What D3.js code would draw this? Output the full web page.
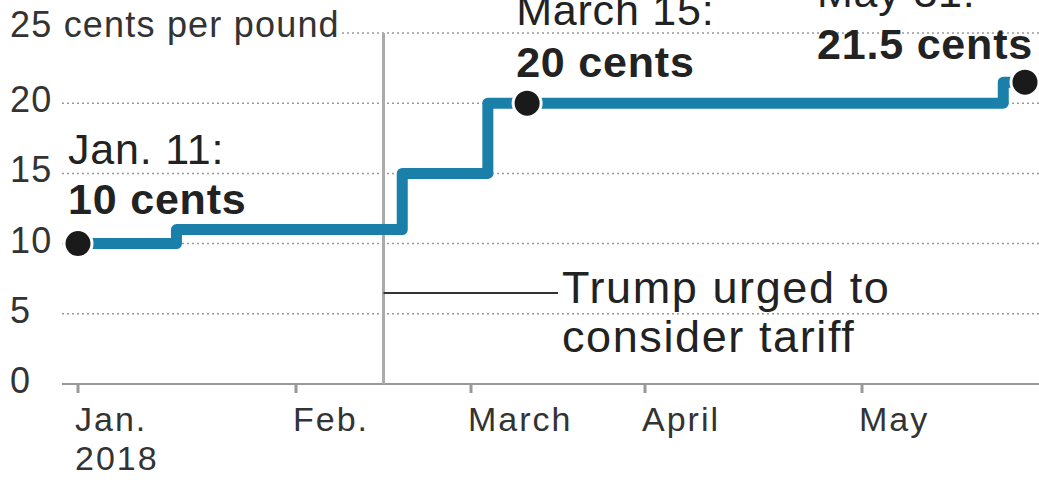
<!DOCTYPE html>
<html>

<head>
  <meta charset="utf-8">
  <script src="https://d3js.org/d3.v7.min.js"></script>
  <style>
    body {
      margin: 0;
      background: #fff;
    }

    svg {
      display: block;
      font-family: "Liberation Sans", Arial, sans-serif;
    }
  </style>
</head>

<body>
  <svg width="1039" height="480"></svg>
  <script>
    const svg = d3.select("svg");
    const parse = d3.timeParse("%Y-%m-%d");

    // 月份刻度
    const monthLabels = ["Jan.", "Feb.", "March", "April", "May"];
    const monthStarts = ["2018-01-01", "2018-02-01", "2018-03-01", "2018-04-01", "2018-05-01"];
    const yTicks = [0, 5, 10, 15, 20, 25];

    // 阶梯线数据（从图上读出的日期）
    const stepDates = ["2018-01-01", "2018-01-15", "2018-02-18", "2018-03-04", "2018-05-27", "2018-05-31"];
    const stepValues = [10, 11, 15, 20, 21.5, 21.5];

    // 标注点
    const markerDates = ["2018-01-01", "2018-03-11", "2018-05-31"];
    const markerValues = [10, 20, 21.5];
    const markerTitles = ["Jan. 11:", "March 15:", "May 31:"];
    const markerAmounts = ["10 cents", "20 cents", "21.5 cents"];

    // 事件注释
    const eventDate = "2018-02-15";
    const eventText = ["Trump urged to", "consider tariff"];

    // 标签相对点的偏移
    const labelOffsets = [[-10, -80, -30], [-11, -78, -26], [-208, -75, -23]];

    // 分段时间比例尺，对齐原图的月份刻度
    const x = d3.scaleTime()
      .domain([...monthStarts, "2018-05-31"].map(parse))
      .range([78, 296, 471, 645, 862, 1025]);

    const y = d3.scaleLinear()
      .domain([0, 25])
      .range([384, 33]);

    // 网格线
    svg.append("g")
      .selectAll("line")
      .data(yTicks.filter(d => d > 0))
      .join("line")
      .attr("x1", d => d === 25 ? 342 : 62)
      .attr("x2", 1039)
      .attr("y1", d => y(d))
      .attr("y2", d => y(d))
      .attr("stroke", "#9a9a9a")
      .attr("stroke-width", 1.5)
      .attr("stroke-dasharray", "2,3");

    // y 轴标签
    svg.append("g")
      .selectAll("text")
      .data(yTicks)
      .join("text")
      .attr("x", 10)
      .attr("y", d => y(d) + (d === 25 ? 4 : 9))
      .attr("font-size", 36)
      .attr("letter-spacing", 1.2)
      .attr("fill", "#333")
      .text(d => d === 25 ? "25 cents per pound" : d);

    // x 轴
    const xAxis = svg.append("g");
    xAxis.append("line")
      .attr("x1", 62)
      .attr("x2", 1039)
      .attr("y1", y(0))
      .attr("y2", y(0))
      .attr("stroke", "#999")
      .attr("stroke-width", 2);

    xAxis.selectAll(".tick")
      .data(monthStarts)
      .join("line")
      .attr("class", "tick")
      .attr("x1", d => x(parse(d)))
      .attr("x2", d => x(parse(d)))
      .attr("y1", y(0))
      .attr("y2", y(0) + 9)
      .attr("stroke", "#999")
      .attr("stroke-width", 3);

    xAxis.selectAll(".label")
      .data(monthStarts)
      .join("text")
      .attr("class", "label")
      .attr("x", d => x(parse(d)) - 3)
      .attr("y", 431)
      .attr("font-size", 34)
      .attr("letter-spacing", 2)
      .attr("fill", "#333")
      .text((d, i) => monthLabels[i]);

    xAxis.append("text")
      .attr("x", x(parse(monthStarts[0])) - 3)
      .attr("y", 470)
      .attr("font-size", 34)
      .attr("letter-spacing", 2)
      .attr("fill", "#333")
      .text("2018");

    // 事件竖线和注释
    const ex = x(parse(eventDate));
    svg.append("line")
      .attr("x1", ex)
      .attr("x2", ex)
      .attr("y1", y(25))
      .attr("y2", y(0))
      .attr("stroke", "#aaa")
      .attr("stroke-width", 3);

    svg.append("line")
      .attr("x1", ex)
      .attr("x2", 558)
      .attr("y1", 293)
      .attr("y2", 293)
      .attr("stroke", "#333")
      .attr("stroke-width", 2);

    svg.append("g")
      .selectAll("text")
      .data(eventText)
      .join("text")
      .attr("x", 562)
      .attr("y", (d, i) => 303 + i * 49)
      .attr("font-size", 45)
      .attr("letter-spacing", 1.6)
      .attr("fill", "#222")
      .text(d => d);

    // 阶梯线
    const line = d3.line()
      .x(d => x(d[0]))
      .y(d => y(d[1]))
      .curve(d3.curveStepAfter);

    svg.append("path")
      .datum(stepDates.map((d, i) => [parse(d), stepValues[i]]))
      .attr("d", line)
      .attr("fill", "none")
      .attr("stroke", "#1a80a9")
      .attr("stroke-width", 11)
      .attr("stroke-linejoin", "round");

    // 标注点和文字
    const markers = markerDates.map((d, i) => ({
      x: x(parse(d)),
      y: y(markerValues[i]),
      title: markerTitles[i],
      amount: markerAmounts[i],
      off: labelOffsets[i]
    }));

    svg.append("g")
      .selectAll("circle")
      .data(markers)
      .join("circle")
      .attr("cx", d => d.x)
      .attr("cy", d => d.y)
      .attr("r", 14)
      .attr("fill", "#1a1a1a")
      .attr("stroke", "#fff")
      .attr("stroke-width", 3);

    const labels = svg.append("g")
      .selectAll("g")
      .data(markers)
      .join("g");

    labels.append("text")
      .attr("x", d => d.x + d.off[0])
      .attr("y", d => d.y + d.off[1])
      .attr("font-size", 43)
      .attr("letter-spacing", 0.8)
      .attr("fill", "#222")
      .text(d => d.title);

    labels.append("text")
      .attr("x", d => d.x + d.off[0])
      .attr("y", d => d.y + d.off[2])
      .attr("font-size", 43)
      .attr("font-weight", "bold")
      .attr("letter-spacing", 0.8)
      .attr("fill", "#222")
      .text(d => d.amount);
  </script>

</body>

</html>
